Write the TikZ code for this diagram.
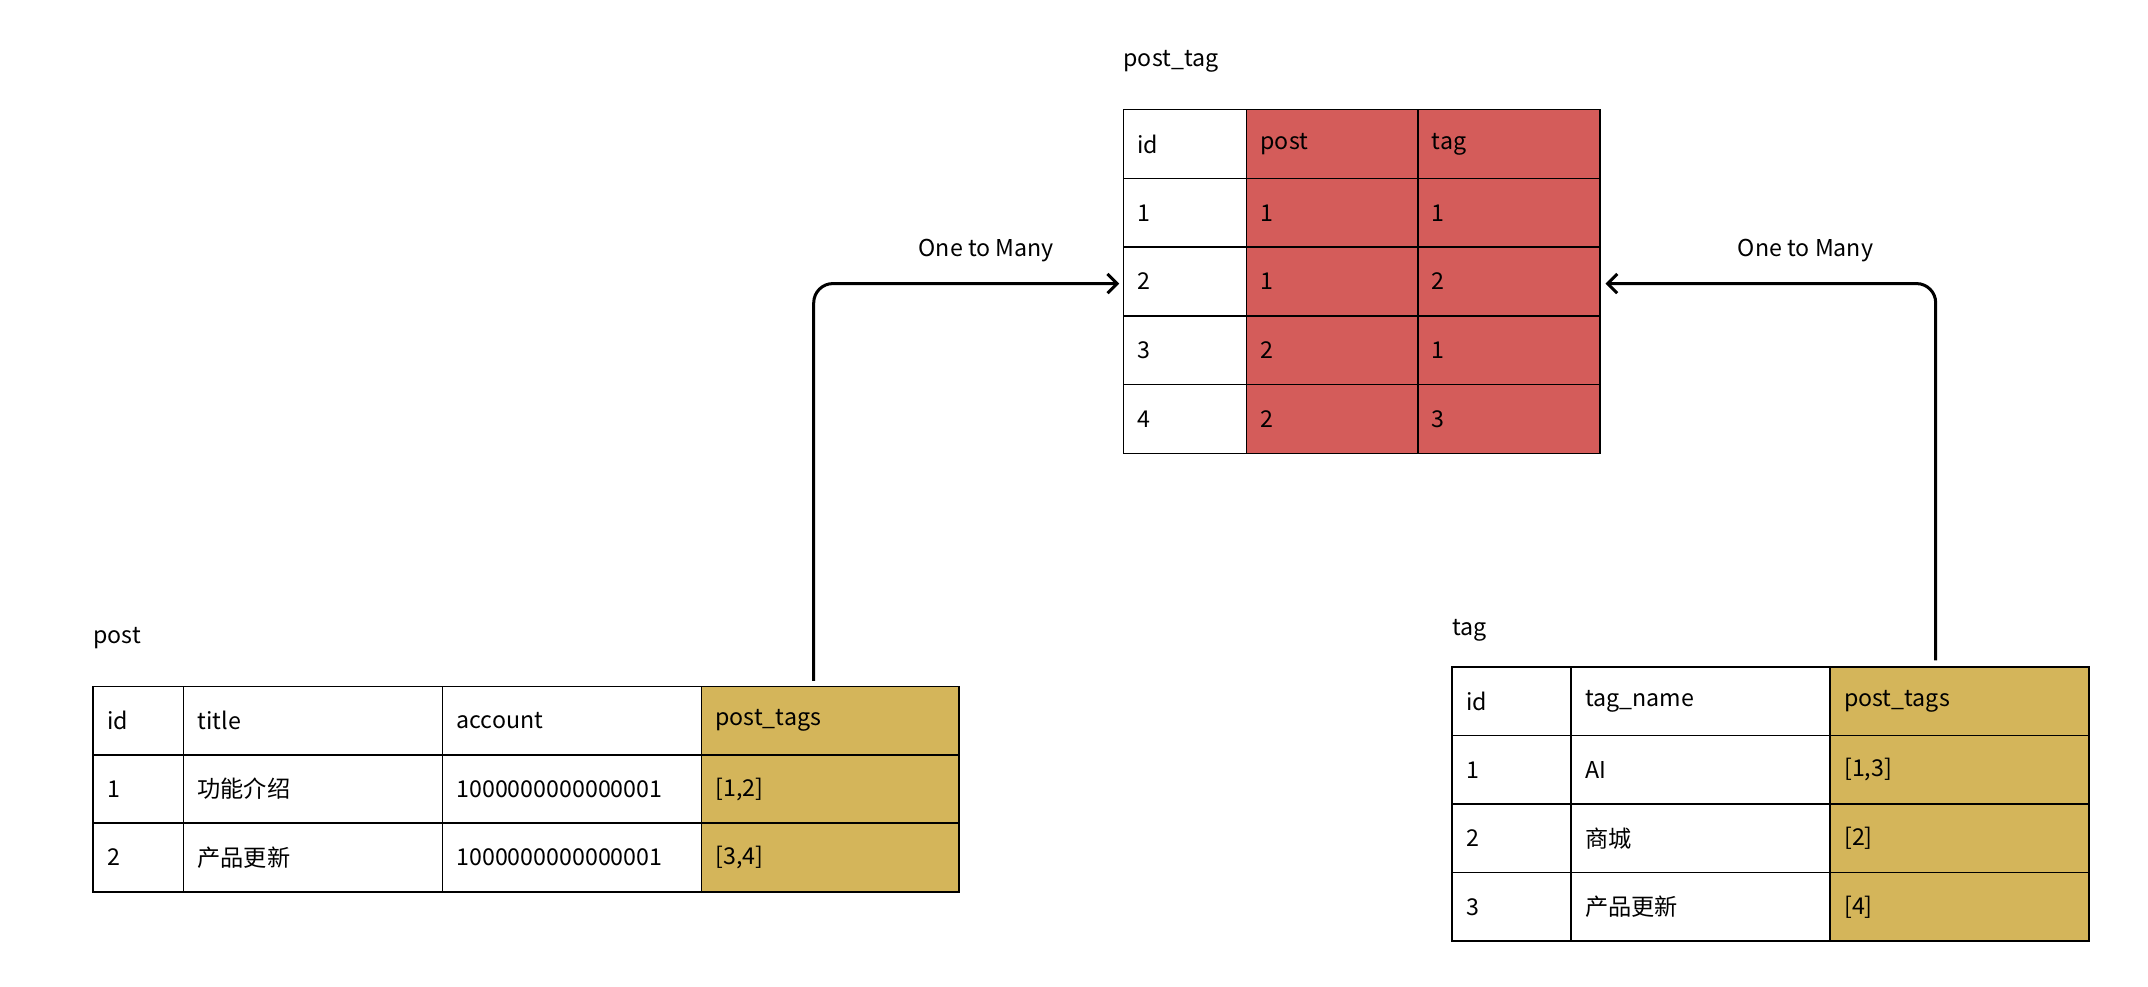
\documentclass[tikz,border=0pt]{standalone}
\usepackage{fontspec}
\setmainfont{Noto Sans CJK SC}
\usetikzlibrary{arrows.meta}
\begin{document}
\begin{tikzpicture}[x=1bp,y=-1bp,
  lbl/.style={font=\fontsize{17}{20}\selectfont,anchor=west,inner sep=0pt},
  conn/.style={line width=2.2bp,rounded corners=14bp,-{Straight Barb[length=7bp,width=14bp,line width=2.2bp]}}]
\definecolor{cr}{HTML}{D45C5A}
\definecolor{cg}{HTML}{D4B55A}
\useasboundingbox (0,0) rectangle (1568,720);
\fill[white] (0,0) rectangle (1568,720);
\newcommand{\cellx}[7]{%
  \path[draw=black,line width=1.2bp,#6] (#2,#3) rectangle (#4,#5);
  \node[lbl] (#1) at (#2+10,{(#3+#5)/2}) {#7};}
% post_tag
\node[lbl] (ptt) at (820,45) {post\_tag};
\foreach \r/\a/\b/\c in {0/id/post/tag,1/1/1/1,2/2/1/2,3/3/2/1,4/4/2/3}{
  \pgfmathsetmacro{\ya}{80+50.2*\r}\pgfmathsetmacro{\yb}{\ya+50.2}
  \cellx{pt-\r-0}{820}{\ya}{910}{\yb}{fill=white}{\a}
  \cellx{pt-\r-1}{910}{\ya}{1035}{\yb}{fill=cr}{\b}
  \cellx{pt-\r-2}{1035}{\ya}{1168}{\yb}{fill=cr}{\c}
}
% post
\node[lbl] (pst) at (68,466) {post};
\foreach \r/\a/\b/\c/\d in {0/id/title/account/post\_tags,1/1/功能介绍/1000000000000001/{[1,2]},2/2/产品更新/1000000000000001/{[3,4]}}{
  \pgfmathsetmacro{\ya}{501+50*\r}\pgfmathsetmacro{\yb}{\ya+50}
  \cellx{p-\r-0}{68}{\ya}{134}{\yb}{fill=white}{\a}
  \cellx{p-\r-1}{134}{\ya}{323}{\yb}{fill=white}{\b}
  \cellx{p-\r-2}{323}{\ya}{512}{\yb}{fill=white}{\c}
  \cellx{p-\r-3}{512}{\ya}{700}{\yb}{fill=cg}{\d}
}
% tag
\node[lbl] (tgt) at (1060,460) {tag};
\foreach \r/\a/\b/\c in {0/id/tag\_name/post\_tags,1/1/AI/{[1,3]},2/2/商城/{[2]},3/3/产品更新/{[4]}}{
  \pgfmathsetmacro{\ya}{487+50*\r}\pgfmathsetmacro{\yb}{\ya+50}
  \cellx{t-\r-0}{1060}{\ya}{1147}{\yb}{fill=white}{\a}
  \cellx{t-\r-1}{1147}{\ya}{1336}{\yb}{fill=white}{\b}
  \cellx{t-\r-2}{1336}{\ya}{1525}{\yb}{fill=cg}{\c}
}
\coordinate (s1) at (594,497);
\coordinate (e1) at (817,207);
\coordinate (s2) at (1413,482);
\coordinate (e2) at (1172,207);
\draw[conn] (s1) |- (e1);
\draw[conn] (s2) |- (e2);
\node[font=\fontsize{17}{20}\selectfont] (l1) at (720,183) {One to Many};
\node[font=\fontsize{17}{20}\selectfont] (l2) at (1318,183) {One to Many};
\end{tikzpicture}
\end{document}
